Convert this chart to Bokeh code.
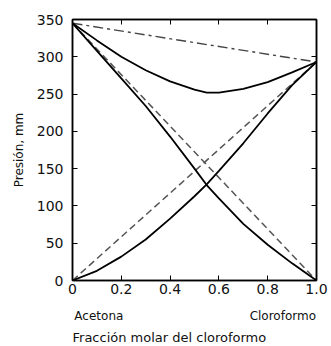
from bokeh.plotting import figure
from bokeh.embed import file_html
from bokeh.resources import INLINE
from bokeh.models import LinearAxis, Title, FixedTicker, CustomJSTickFormatter, Range1d

# Data
x_frac = [0, 0.1, 0.2, 0.3, 0.4, 0.5, 0.55, 0.6, 0.7, 0.8, 0.9, 1.0]
p_total = [345, 322, 300, 282, 267, 256, 252, 252, 257, 266, 279, 293]
p_acetone = [345, 308, 271, 234, 193, 150, 128, 110, 76, 48, 23, 0]
p_chloro = [0, 13, 32, 55, 83, 113, 129, 147, 184, 224, 262, 293]

ideal_x = [0, 1]
ideal_total = [345, 293]
ideal_acetone = [345, 0]
ideal_chloro = [0, 293]

x_ticks = [0, 0.2, 0.4, 0.6, 0.8, 1.0]
x_tick_labels = ["0", "0.2", "0.4", "0.6", "0.8", "1.0"]
y_ticks = [0, 50, 100, 150, 200, 250, 300, 350]
end_names = ["Acetona", "Cloroformo"]
end_name_pos = [0.108, 0.862]

FONT = "DejaVu Sans"

p = figure(width=331, height=346, output_backend="svg", toolbar_location=None,
           x_range=Range1d(0, 1), y_range=Range1d(0, 350),
           min_border_left=72, min_border_right=15, min_border_top=19,
           min_border_bottom=65)
p.grid.visible = False
p.outline_line_color = "black"
p.outline_line_width = 1.5
p.background_fill_color = "white"
p.border_fill_color = "white"

for ax in (p.xaxis[0], p.yaxis[0]):
    ax.major_tick_in = 5
    ax.major_tick_out = 0
    ax.minor_tick_line_color = None
    ax.axis_line_color = "black"
    ax.axis_line_width = 1.5
    ax.major_label_text_font = FONT
    ax.major_label_text_font_size = "14px"
    ax.major_label_text_color = "#111111"

p.xaxis[0].ticker = FixedTicker(ticks=x_ticks)
p.xaxis[0].major_label_overrides = {t: l for t, l in zip(x_ticks, x_tick_labels)}
p.xaxis[0].major_label_standoff = 3
p.yaxis[0].ticker = FixedTicker(ticks=y_ticks)
p.yaxis[0].major_label_standoff = 9
p.yaxis[0].axis_label = "Presión, mm"
p.yaxis[0].axis_label_text_font = FONT
p.yaxis[0].axis_label_text_font_size = "12px"
p.yaxis[0].axis_label_text_font_style = "normal"
p.yaxis[0].axis_label_text_color = "#111111"
p.yaxis[0].axis_label_standoff = 8

empty = CustomJSTickFormatter(code="return ''")
right = LinearAxis(ticker=FixedTicker(ticks=y_ticks), formatter=empty,
                   major_tick_in=5, major_tick_out=0, minor_tick_line_color=None,
                   major_label_text_font_size="0px", major_label_standoff=0,
                   axis_line_color="black", axis_line_width=1.5)
top = LinearAxis(ticker=FixedTicker(ticks=x_ticks), formatter=empty,
                 major_tick_in=5, major_tick_out=0, minor_tick_line_color=None,
                 major_label_text_font_size="0px", major_label_standoff=0,
                 axis_line_color="black", axis_line_width=1.5)
p.add_layout(right, "right")
p.add_layout(top, "above")

# Endpoint names as a second, line-less bottom axis
names_axis = LinearAxis(ticker=FixedTicker(ticks=end_name_pos),
                        major_label_overrides={t: n for t, n in zip(end_name_pos, end_names)},
                        axis_line_color=None, major_tick_line_color=None,
                        minor_tick_line_color=None, major_label_standoff=6,
                        major_label_text_font=FONT, major_label_text_font_size="12px",
                        major_label_text_color="#111111")
p.add_layout(names_axis, "below")
p.add_layout(Title(text="Fracción molar del cloroformo", align="left", offset=0,
                   text_font=FONT, text_font_size="13px", text_font_style="normal",
                   text_color="#111111", standoff=4), "below")

# Ideal lines
p.line(ideal_x, ideal_total, line_color="#444444", line_width=1.4, line_dash="10 4 3 4")
p.line(ideal_x, ideal_acetone, line_color="#555555", line_width=1.5, line_dash="7 4")
p.line(ideal_x, ideal_chloro, line_color="#555555", line_width=1.5, line_dash="7 4")

# Real curves
p.line(x_frac, p_total, line_color="black", line_width=1.8)
p.line(x_frac, p_acetone, line_color="black", line_width=1.8)
p.line(x_frac, p_chloro, line_color="black", line_width=1.8)

open("out.html", "w").write(file_html(p, INLINE))
